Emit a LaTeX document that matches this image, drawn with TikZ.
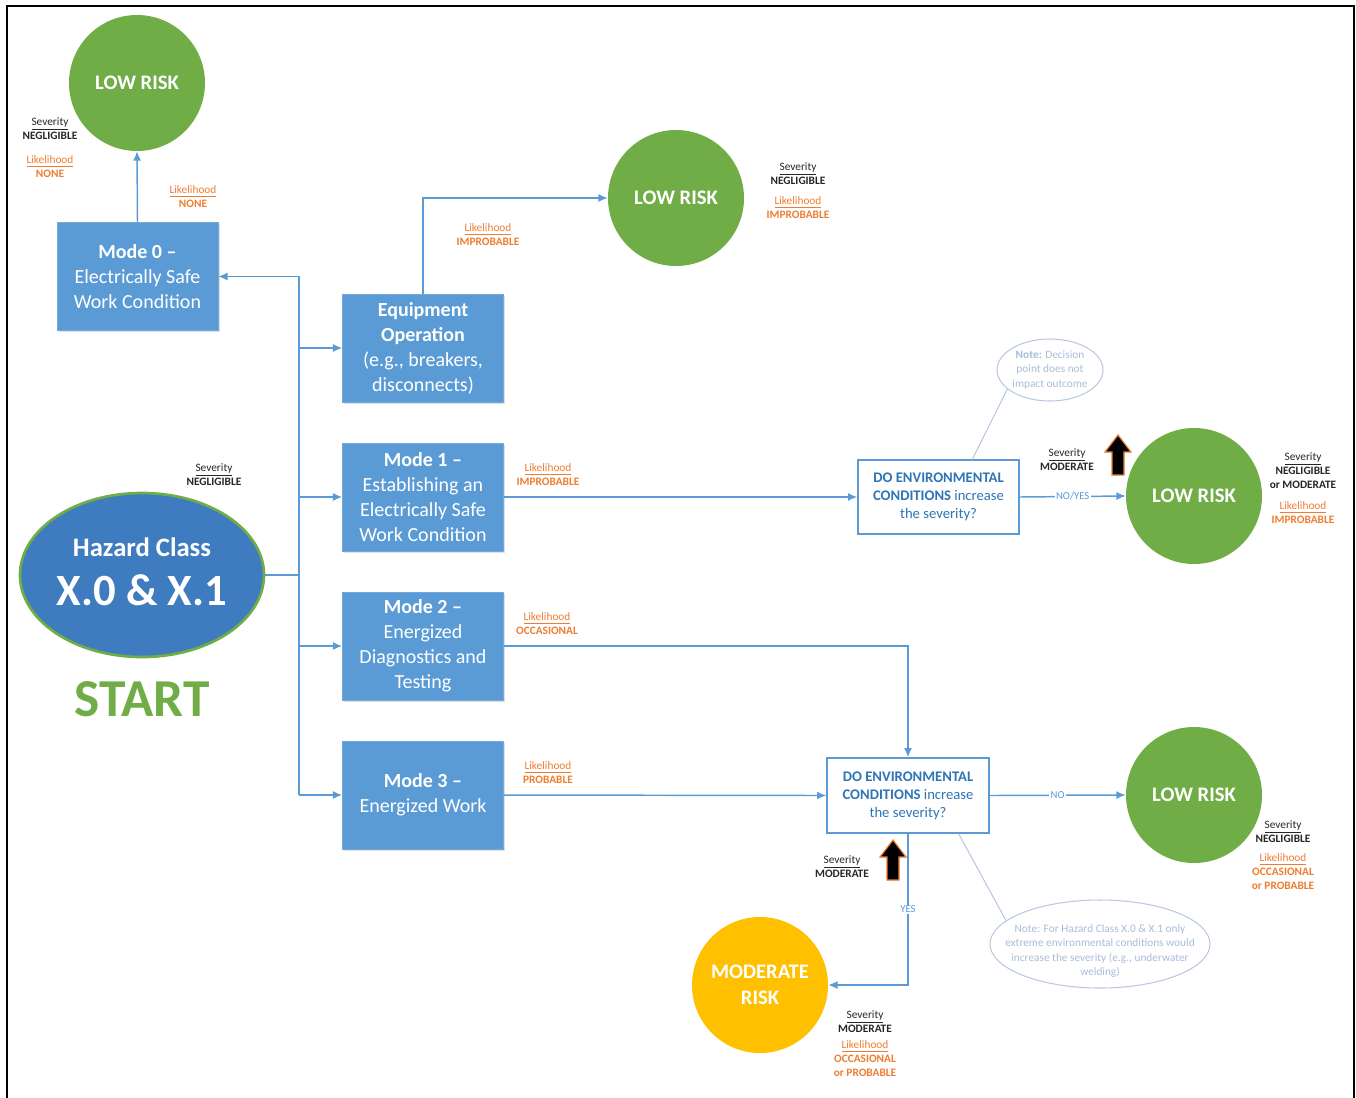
\documentclass[tikz,border=0pt]{standalone}
\usepackage{fontspec}
\setmainfont{Carlito}
\usetikzlibrary{arrows.meta,shapes.geometric,shadows,calc}
\definecolor{boxblue}{HTML}{5B9BD5}
\definecolor{hazblue}{HTML}{3F7CBF}
\definecolor{riskgreen}{HTML}{70AD47}
\definecolor{riskgold}{HTML}{FFC000}
\definecolor{likeorange}{HTML}{ED7D31}
\definecolor{notegrey}{HTML}{A9BCD8}
\definecolor{decblue}{HTML}{2E75B6}
\newcommand{\sevhead}{\underline{Severity}}
\newcommand{\likehead}{\underline{Likelihood}}
\tikzset{
  modebox/.style={rectangle, fill=boxblue, draw=boxblue!85!white, text=white,
    minimum width=120.75pt, minimum height=81pt, align=center, inner sep=0pt,
    font=\fontsize{15}{18.75}\selectfont,
    drop shadow={opacity=0.25, shadow xshift=1.2pt, shadow yshift=-1.2pt}},
  riskdot/.style={circle, fill=riskgreen, minimum size=102pt, inner sep=0pt,
    text=white, align=center, font=\bfseries\fontsize{15.5}{19.5}\selectfont},
  decision/.style={rectangle, draw=boxblue, line width=1pt, fill=white, text=decblue,
    minimum width=120.75pt, minimum height=55.5pt, align=center, inner sep=0pt,
    font=\fontsize{11}{13.5}\selectfont},
  noteshape/.style={ellipse, draw=notegrey!80, line width=0.8pt, inner sep=0pt},
  notetext/.style={text=notegrey, align=center, inner sep=0pt,
    font=\fontsize{8.5}{11}\selectfont},
  flow/.style={draw=boxblue, line width=1.1pt, -{Latex[length=7pt,width=6pt]}},
  plain/.style={draw=boxblue, line width=1.1pt},
  notelink/.style={draw=notegrey!80, line width=0.8pt},
  sevtag/.style={align=center, inner sep=0pt, text=black!85,
    font=\fontsize{8.5}{10.5}\selectfont},
  liketag/.style={align=center, inner sep=0pt, text=likeorange,
    font=\fontsize{8.5}{10.5}\selectfont},
  flowtag/.style={fill=white, inner sep=1pt, text=boxblue,
    font=\fontsize{8}{9}\selectfont},
  blockarrow/.pic={
    \filldraw[fill=black, draw=likeorange, line width=0.9pt]
      (-6,20) -- (-6,-3) -- (-13,-3) -- (0,-20) -- (13,-3) -- (6,-3) -- (6,20) -- cycle;
  }
}
\begin{document}
\begin{tikzpicture}[x=0.75pt, y=-0.75pt]
\useasboundingbox (0,0) rectangle (1356,1097);
% outer frame
\draw[line width=1.6pt] (7,1110) -- (7,6) -- (1354,6) -- (1354,1110);

% start ellipse
\node[ellipse, fill=hazblue, draw=riskgreen, line width=2pt, minimum width=183pt,
      minimum height=123pt, inner sep=0pt] (hazard) at (142,575) {};
\node[text=white, font=\bfseries\fontsize{20}{24}\selectfont, inner sep=0pt]
      (hazname) at (142,547) {Hazard Class};
\node[text=white, font=\bfseries\fontsize{33.5}{40}\selectfont, inner sep=0pt]
      (hazcode) at (142,590) {X.0 \& X.1};
\node[text=riskgreen, font=\bfseries\fontsize{40}{48}\selectfont, inner sep=0pt]
      (start) at (142,699) {START};
\node[sevtag] (sev0) at (214,475) {\sevhead\\\textbf{NEGLIGIBLE}};

% work modes
\node[modebox] (mode0) at (137.5,276.5) {\textbf{Mode 0 –}\\Electrically Safe\\Work Condition};
\node[modebox] (equip) at (423,348) {\textbf{Equipment}\\\textbf{Operation}\\(e.g., breakers,\\disconnects)};
\node[modebox] (mode1) at (423,497) {\textbf{Mode 1 –}\\Establishing an\\Electrically Safe\\Work Condition};
\node[modebox] (mode2) at (423,646) {\textbf{Mode 2 –}\\Energized\\Diagnostics and\\Testing};
\node[modebox] (mode3) at (423,795) {\textbf{Mode 3 –}\\Energized Work};

% outcomes
\node[riskdot] (low0) at (137,83) {LOW RISK};
\node[riskdot] (low1) at (676,198) {LOW RISK};
\node[riskdot] (low2) at (1194,496) {LOW RISK};
\node[riskdot] (low3) at (1194,795) {LOW RISK};
\node[riskdot, fill=riskgold] (moderate) at (760,985) {MODERATE\\RISK};

% decisions
\node[decision] (dec1) at (938.5,497) {\textbf{DO ENVIRONMENTAL}\\\textbf{CONDITIONS} increase\\the severity?};
\node[decision, minimum width=121.5pt, minimum height=56.25pt] (dec2) at (908,795.5)
      {\textbf{DO ENVIRONMENTAL}\\\textbf{CONDITIONS} increase\\the severity?};

% notes
\node[noteshape, minimum width=79.5pt, minimum height=46.5pt] (note1) at (1050,370) {};
\node[notetext] (note1text) at (1050,370) {\textbf{Note:} Decision\\point does not\\impact outcome};
\node[noteshape, minimum width=165pt, minimum height=66pt] (note2) at (1100,944) {};
\node[notetext, font=\fontsize{8.5}{10.9}\selectfont] (note2text) at (1100,951)
      {Note: For Hazard Class X.0 \& X.1 only\\extreme environmental conditions would\\increase the severity (e.g., underwater\\welding)};
\draw[notelink] ($(dec1.north west)!0.708!(dec1.north east)$) -- (note1.204);
\draw[notelink] ($(dec2.south west)!0.81!(dec2.south east)$) -- (note2.166);

% distribution trunk
\coordinate (trunk) at (299,276);
\coordinate (trunkend) at (299,795);
\draw[plain] (trunk) -- (trunkend);
\draw[plain] (hazard.east) -- (hazard.east -| trunk);
\draw[flow] (trunk |- mode0.east) -- (mode0.east);
\draw[flow] (trunk |- equip.west) -- (equip.west);
\draw[flow] (trunk |- mode1.west) -- (mode1.west);
\draw[flow] (trunk |- mode2.west) -- (mode2.west);
\draw[flow] (trunkend) -- (mode3.west);

% paths to outcomes
\draw[flow] (mode0.north) -- (low0.south);
\draw[flow] (equip.north) |- (low1.west);
\draw[flow] (mode1.east) -- (dec1.west);
\draw[flow] (dec1.east) -- node[flowtag] (noyes) {NO/YES} (low2.west);
\draw[flow] (mode2.east) -| (dec2.north);
\draw[flow] (mode3.east) -- (dec2.west);
\draw[flow] (dec2.east) -- node[flowtag] (no) {NO} (low3.west);
\draw[flow] (dec2.south) |- node[flowtag, pos=0.25] (yes) {YES} (moderate.east);

% severity escalation markers
\pic at (1118,455) {blockarrow};
\pic at (893,860) {blockarrow};

% severity and likelihood tags
\node[sevtag] (sevA) at (50,129) {\sevhead\\\textbf{NEGLIGIBLE}};
\node[liketag] (likeA) at (50,167) {\likehead\\\textbf{NONE}};
\node[liketag] (likeB) at (193,197) {\likehead\\\textbf{NONE}};
\node[liketag] (likeC) at (488,235) {\likehead\\\textbf{IMPROBABLE}};
\node[sevtag] (sevD) at (798,174) {\sevhead\\\textbf{NEGLIGIBLE}};
\node[liketag] (likeD) at (798,208) {\likehead\\\textbf{IMPROBABLE}};
\node[liketag] (likeE) at (548,475) {\likehead\\\textbf{IMPROBABLE}};
\node[sevtag] (sevF) at (1067,460) {\sevhead\\\textbf{MODERATE}};
\node[sevtag] (sevG) at (1303,471) {\sevhead\\\textbf{NEGLIGIBLE}\\\textbf{or MODERATE}};
\node[liketag] (likeG) at (1303,513) {\likehead\\\textbf{IMPROBABLE}};
\node[liketag] (likeH) at (547,624) {\likehead\\\textbf{OCCASIONAL}};
\node[liketag] (likeI) at (548,773) {\likehead\\\textbf{PROBABLE}};
\node[sevtag] (sevJ) at (842,867) {\sevhead\\\textbf{MODERATE}};
\node[sevtag] (sevK) at (1283,832) {\sevhead\\\textbf{NEGLIGIBLE}};
\node[liketag] (likeK) at (1283,872) {\likehead\\\textbf{OCCASIONAL}\\\textbf{or PROBABLE}};
\node[sevtag] (sevL) at (865,1022) {\sevhead\\\textbf{MODERATE}};
\node[liketag] (likeL) at (865,1059) {\likehead\\\textbf{OCCASIONAL}\\\textbf{or PROBABLE}};
\end{tikzpicture}
\end{document}
